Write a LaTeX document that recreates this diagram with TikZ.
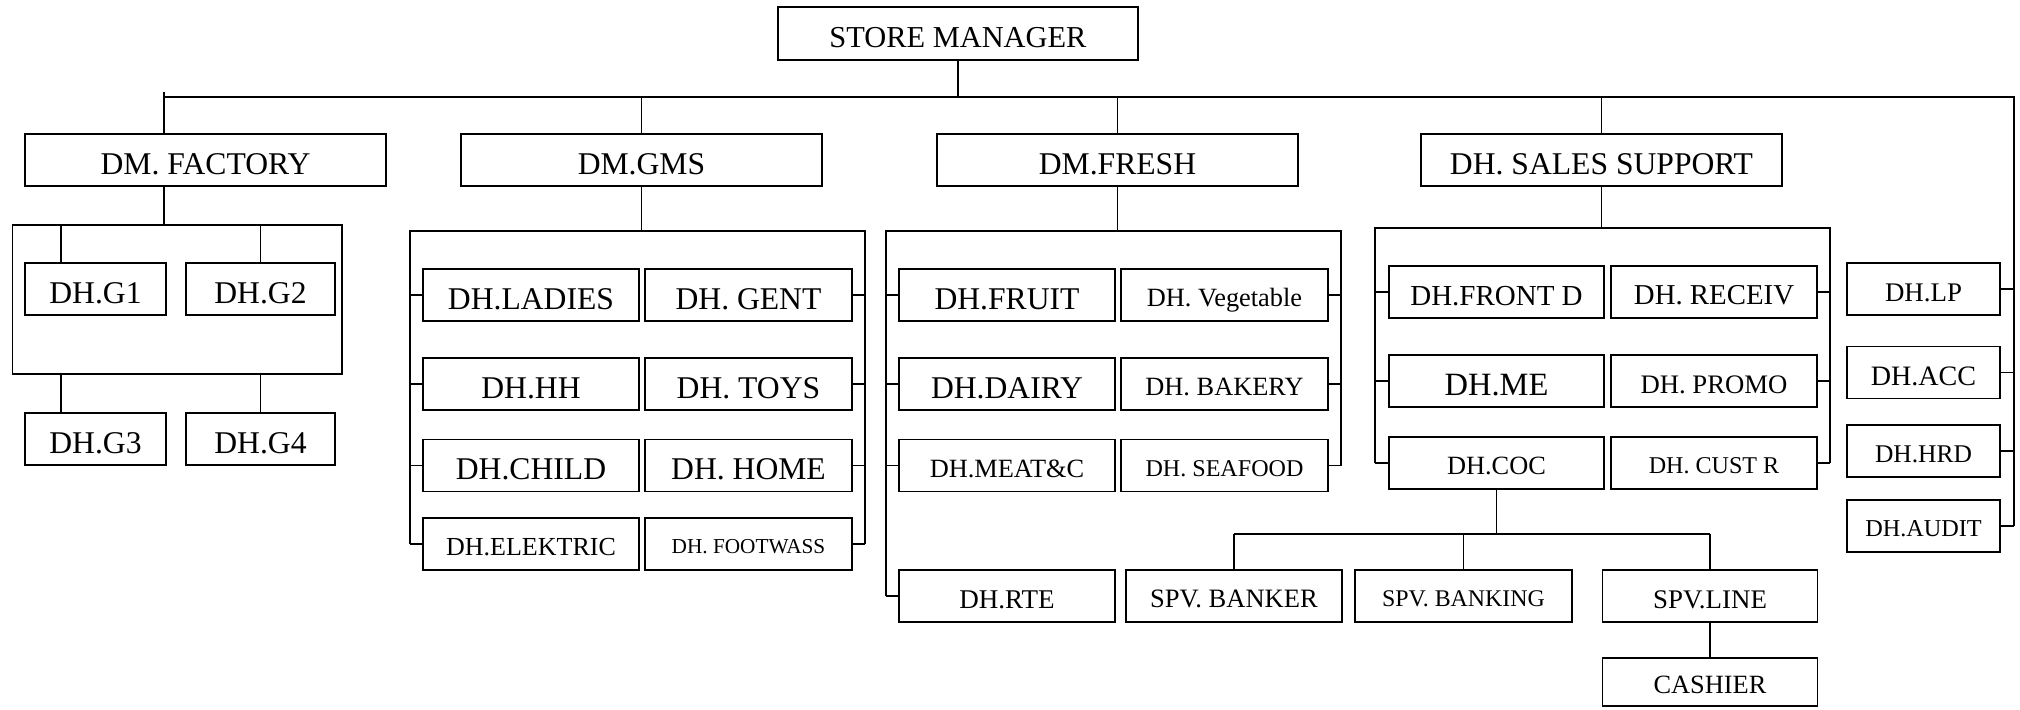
\documentclass[tikz,border=0pt]{standalone}
\usepackage{fontspec}
\setmainfont{Liberation Serif}
\usepackage{tikz}
\newcommand{\fsz}[1]{\fontsize{#1}{#1}\selectfont\rule{0pt}{0.9em}}
\tikzstyle{unit} = [
  rectangle, draw, line width=1pt, inner sep=0pt,
  minimum height=10.4mm, font=\fsz{18}, text depth=0pt
]
\tikzstyle{link} = [line width=0.85pt]

\begin{document}
\begin{tikzpicture}[x=0.2mm, y=-0.2mm]
  \useasboundingbox (0,0) rectangle (2020,709);

  % Store manager
  \node[unit, minimum width=72mm, minimum height=10.6mm, font=\fsz{17.3}] (sm) at (958, 33.5) {STORE MANAGER};

  % Department managers
  \node[unit, minimum width=72.2mm] (fac) at (205.5, 160) {DM. FACTORY};
  \node[unit, minimum width=72.2mm] (gms) at (641.5, 160) {DM.GMS};
  \node[unit, minimum width=72.2mm] (fresh) at (1117.5, 160) {DM.FRESH};
  \node[unit, minimum width=72.2mm] (sales) at (1601.5, 160) {DH. SALES SUPPORT};

  % Factory group
  \node[draw, link, inner sep=0pt, minimum width=65.9mm, minimum height=29.8mm] (facgrp) at (177, 299.5) {};
  \node[unit, minimum width=28.2mm] (g1) at (95.5, 289) {DH.G1};
  \node[unit, minimum width=29.8mm] (g2) at (260.5, 289) {DH.G2};
  \node[unit, minimum width=28.2mm] (g3) at (95.5, 439) {DH.G3};
  \node[unit, minimum width=29.8mm] (g4) at (260.5, 439) {DH.G4};

  % GMS group
  \node[unit, minimum width=43.2mm] (ladies) at (531, 295) {DH.LADIES};
  \node[unit, minimum width=41.4mm] (gent) at (748.5, 295) {DH. GENT};
  \node[unit, minimum width=43.2mm] (hh) at (531, 384) {DH.HH};
  \node[unit, minimum width=41.4mm] (toys) at (748.5, 384) {DH. TOYS};
  \node[unit, minimum width=43.2mm] (child) at (531, 465.5) {DH.CHILD};
  \node[unit, minimum width=41.4mm] (home) at (748.5, 465.5) {DH. HOME};
  \node[unit, minimum width=43.2mm, font=\fsz{14.8}] (elektric) at (531, 544) {DH.ELEKTRIC};
  \node[unit, minimum width=41.4mm, font=\fsz{12.1}] (footwass) at (748.5, 544) {DH. FOOTWASS};

  % Fresh group
  \node[unit, minimum width=43.2mm] (fruit) at (1007, 295) {DH.FRUIT};
  \node[unit, minimum width=41.4mm, font=\fsz{15}] (veg) at (1224.5, 295) {DH. Vegetable};
  \node[unit, minimum width=43.2mm] (dairy) at (1007, 384) {DH.DAIRY};
  \node[unit, minimum width=41.4mm, font=\fsz{15}] (bakery) at (1224.5, 384) {DH. BAKERY};
  \node[unit, minimum width=43.2mm, font=\fsz{15}] (meat) at (1007, 465.5) {DH.MEAT\&C};
  \node[unit, minimum width=41.4mm, font=\fsz{13.7}] (seafood) at (1224.5, 465.5) {DH. SEAFOOD};
  \node[unit, minimum width=43.2mm, font=\fsz{15.4}] (rte) at (1007, 596) {DH.RTE};

  % Sales support group
  \node[unit, minimum width=43mm, font=\fsz{16.5}] (front) at (1496.5, 292) {DH.FRONT D};
  \node[unit, minimum width=41.2mm, font=\fsz{16.4}] (receiv) at (1714, 292) {DH. RECEIV};
  \node[unit, minimum width=43mm, font=\fsz{18.5}] (me) at (1496.5, 381) {DH.ME};
  \node[unit, minimum width=41.2mm, font=\fsz{15.2}] (promo) at (1714, 381) {DH. PROMO};
  \node[unit, minimum width=43mm, font=\fsz{15}] (coc) at (1496.5, 463) {DH.COC};
  \node[unit, minimum width=41.2mm, font=\fsz{13.7}] (custr) at (1714, 463) {DH. CUST R};

  % Supervisors
  \node[unit, minimum width=43.2mm, font=\fsz{15.1}] (banker) at (1234, 596) {SPV. BANKER};
  \node[unit, minimum width=43.4mm, font=\fsz{13.6}] (banking) at (1463.5, 596) {SPV. BANKING};
  \node[unit, minimum width=43mm, font=\fsz{15.3}] (spvline) at (1710, 596) {SPV.LINE};
  \node[unit, minimum width=43mm, minimum height=9.6mm, font=\fsz{15}] (cashier) at (1710, 682) {CASHIER};

  % Staff column
  \node[unit, minimum width=30.6mm, font=\fsz{15.3}] (lp) at (1923.5, 289) {DH.LP};
  \node[unit, minimum width=30.6mm, font=\fsz{16}] (acc) at (1923.5, 372.5) {DH.ACC};
  \node[unit, minimum width=30.6mm, font=\fsz{14.5}] (hrd) at (1923.5, 451) {DH.HRD};
  \node[unit, minimum width=30.6mm, font=\fsz{13.8}] (audit) at (1923.5, 526) {DH.AUDIT};

  % Main bus
  \coordinate (busL) at (164, 97);
  \coordinate (busR) at (2014, 97);
  \draw[link] (busL) -- (busR) -- (busR |- audit.east);
  \draw[link] (sm.south) -- (sm.south |- busL);
  \draw[link] ([yshift=1mm]busL) -- (busL |- fac.north);
  \foreach \n in {gms, fresh, sales}
    \draw[link] (\n.north) -- (\n.north |- busL);
  \foreach \n in {lp, acc, hrd, audit}
    \draw[link] (\n.east) -- (\n.east -| busR);

  % Factory links
  \coordinate (tickG) at (61, 0);
  \draw[link] (busL |- fac.south) -- (busL |- facgrp.north);
  \draw[link] (facgrp.north -| tickG) -- (g1.north -| tickG);
  \draw[link] (facgrp.south -| tickG) -- (g3.north -| tickG);
  \draw[link] (g2 |- facgrp.north) -- (g2.north);
  \draw[link] (g4 |- facgrp.south) -- (g4.north);

  % GMS rails
  \coordinate (gmsL) at (410, 231);
  \coordinate (gmsR) at (865, 231);
  \draw[link] (gms.south) -- (gms.south |- gmsL);
  \draw[link] (elektric.west -| gmsL) -- (gmsL) -- (gmsR) -- (footwass.east -| gmsR);
  \foreach \n in {ladies, hh, child, elektric}
    \draw[link] (\n.west) -- (\n.west -| gmsL);
  \foreach \n in {gent, toys, home, footwass}
    \draw[link] (\n.east) -- (\n.east -| gmsR);

  % Fresh rails
  \coordinate (freshL) at (886, 231);
  \coordinate (freshR) at (1341, 231);
  \draw[link] (fresh.south) -- (fresh.south |- freshL);
  \draw[link] (rte.west -| freshL) -- (freshL) -- (freshR) -- (seafood.east -| freshR);
  \foreach \n in {fruit, dairy, meat, rte}
    \draw[link] (\n.west) -- (\n.west -| freshL);
  \foreach \n in {veg, bakery, seafood}
    \draw[link] (\n.east) -- (\n.east -| freshR);

  % Sales support rails
  \coordinate (salesL) at (1375, 228);
  \coordinate (salesR) at (1830, 228);
  \draw[link] (sales.south) -- (sales.south |- salesL);
  \draw[link] (coc.west -| salesL) -- (salesL) -- (salesR) -- (custr.east -| salesR);
  \foreach \n in {front, me, coc}
    \draw[link] (\n.west) -- (\n.west -| salesL);
  \foreach \n in {receiv, promo, custr}
    \draw[link] (\n.east) -- (\n.east -| salesR);

  % COC to supervisors
  \coordinate (spvbus) at (1498, 534);
  \draw[link] (coc.south) -- (coc.south |- spvbus);
  \draw[link] (banker |- spvbus) -- (spvline |- spvbus);
  \foreach \n in {banker, banking, spvline}
    \draw[link] (\n |- spvbus) -- (\n.north);
  \draw[link] (spvline.south) -- (cashier.north);

\end{tikzpicture}
\end{document}
